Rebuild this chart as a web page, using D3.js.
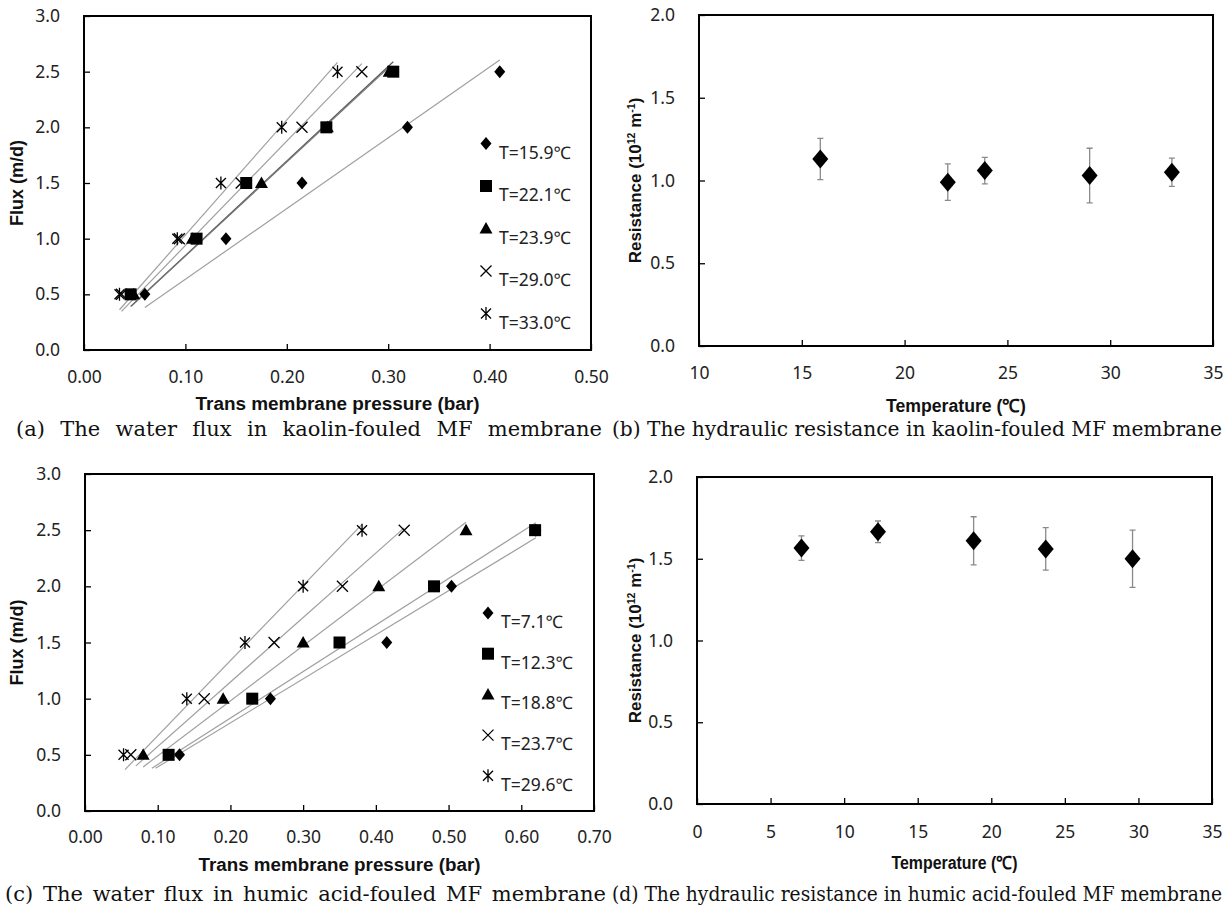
<!DOCTYPE html>
<html><head><meta charset="utf-8">
<script src="https://cdn.jsdelivr.net/npm/d3@7"></script>
<style>body{margin:0;background:#fff} svg{display:block}</style>
</head><body>
<svg id="chart" width="1229" height="912"></svg>
<script>
// ---------- DATA ----------
const fluxLevels = [0.5, 1.0, 1.5, 2.0, 2.5];
const fluxTicks = [0, 0.5, 1.0, 1.5, 2.0, 2.5, 3.0];

// (a) kaolin-fouled: TMP (bar) for each flux level
const aLabels = ["T=15.9℃", "T=22.1℃", "T=23.9℃", "T=29.0℃", "T=33.0℃"];
const aTMP159 = [0.060, 0.140, 0.215, 0.319, 0.410];
const aTMP221 = [0.046, 0.111, 0.160, 0.239, 0.305];
const aTMP239 = [0.049, 0.107, 0.175, 0.240, 0.301];
const aTMP290 = [0.037, 0.094, 0.155, 0.215, 0.274];
const aTMP330 = [0.035, 0.092, 0.135, 0.195, 0.250];
const aLineFrom = [0.060, 0.046, 0.047, 0.037, 0.035];
const aLineTo   = [0.410, 0.305, 0.302, 0.274, 0.250];
const aXTicks = [0, 0.1, 0.2, 0.3, 0.4, 0.5];

// (c) humic acid-fouled
const cLabels = ["T=7.1℃", "T=12.3℃", "T=18.8℃", "T=23.7℃", "T=29.6℃"];
const cTMP71  = [0.130, 0.255, 0.415, 0.504, 0.620];
const cTMP123 = [0.115, 0.230, 0.350, 0.480, 0.619];
const cTMP188 = [0.080, 0.190, 0.300, 0.404, 0.524];
const cTMP237 = [0.063, 0.164, 0.260, 0.354, 0.439];
const cTMP296 = [0.053, 0.140, 0.220, 0.300, 0.381];
const cLineFrom = [0.097, 0.092, 0.080, 0.070, 0.055];
const cLineTo   = [0.620, 0.620, 0.524, 0.439, 0.381];
const cXTicks = [0, 0.1, 0.2, 0.3, 0.4, 0.5, 0.6, 0.7];

// (b) resistance, kaolin
const bTemp = [15.9, 22.1, 23.9, 29.0, 33.0];
const bRes  = [1.13, 0.99, 1.06, 1.03, 1.05];
const bErr  = [0.125, 0.11, 0.08, 0.165, 0.085];
const bXTicks = [10, 15, 20, 25, 30, 35];

// (d) resistance, humic acid
const dTemp = [7.1, 12.3, 18.8, 23.7, 29.6];
const dRes  = [1.565, 1.665, 1.61, 1.56, 1.50];
const dErr  = [0.075, 0.066, 0.147, 0.13, 0.175];
const dXTicks = [0, 5, 10, 15, 20, 25, 30, 35];
const resTicks = [0, 0.5, 1.0, 1.5, 2.0];

const captions = [
  "(a) The water flux in kaolin-fouled MF membrane",
  "(b) The hydraulic resistance in kaolin-fouled MF membrane",
  "(c) The water flux in humic acid-fouled MF membrane",
  "(d) The hydraulic resistance in humic acid-fouled MF membrane"
];

// ---------- DRAWING ----------
const svg = d3.select("#chart");
const TICKFONT = "'Noto Sans', 'Open Sans', sans-serif";
const TITLEFONT = "'Liberation Sans', Arial, sans-serif";
const SERIF = "'DejaVu Serif', 'Liberation Serif', serif";
const markerTypes = ["diamond", "square", "triangle", "x", "asterisk"];

function drawMarker(g, type, cx, cy) {
  if (type === "diamond") {
    g.append("path").attr("d", `M${cx},${cy-6.5}L${cx+5.5},${cy}L${cx},${cy+6.5}L${cx-5.5},${cy}Z`).attr("fill", "#000");
  } else if (type === "square") {
    g.append("rect").attr("x", cx-6).attr("y", cy-6).attr("width", 12).attr("height", 12).attr("fill", "#000");
  } else if (type === "triangle") {
    g.append("path").attr("d", `M${cx},${cy-6.5}L${cx+6.5},${cy+5}L${cx-6.5},${cy+5}Z`).attr("fill", "#000");
  } else if (type === "x") {
    g.append("path").attr("d", `M${cx-5.5},${cy-5.5}L${cx+5.5},${cy+5.5}M${cx+5.5},${cy-5.5}L${cx-5.5},${cy+5.5}`)
      .attr("stroke", "#000").attr("stroke-width", 1.3).attr("fill", "none");
  } else if (type === "asterisk") {
    g.append("path").attr("d", `M${cx-5},${cy-5}L${cx+5},${cy+5}M${cx+5},${cy-5}L${cx-5},${cy+5}M${cx},${cy-6.5}L${cx},${cy+6.5}`)
      .attr("stroke", "#000").attr("stroke-width", 1.3).attr("fill", "none");
  }
}

function styleAxis(g) {
  g.select(".domain").remove();
  g.selectAll(".tick line").attr("stroke", "#000").attr("stroke-width", 1.3);
  g.selectAll(".tick text").attr("font-family", TICKFONT).attr("font-size", 17.5).attr("fill", "#222");
}

function frame(left, right, top, bottom) {
  svg.append("rect").attr("x", left).attr("y", top).attr("width", right-left).attr("height", bottom-top)
    .attr("fill", "none").attr("stroke", "#000").attr("stroke-width", 2);
}

function axisTitle(x, y, text, width, rotate) {
  const t = svg.append("text")
    .attr("transform", rotate ? `translate(${x},${y}) rotate(-90)` : `translate(${x},${y})`)
    .attr("text-anchor", "middle").attr("font-family", TITLEFONT).attr("font-weight", "bold")
    .attr("font-size", 18).attr("fill", "#111").text(text);
  if (width) t.attr("textLength", width).attr("lengthAdjust", "spacingAndGlyphs");
  return t;
}

function fluxPanel(cfg) {
  const x = d3.scaleLinear().domain([0, cfg.xMax]).range([cfg.left, cfg.right]);
  const y = d3.scaleLinear().domain([0, 3]).range([cfg.bottom, cfg.top]);
  svg.append("g").attr("transform", `translate(${cfg.left},0)`)
    .call(d3.axisLeft(y).tickValues(fluxTicks).tickFormat(d3.format(".1f")).tickSizeInner(-6).tickSizeOuter(0).tickPadding(24))
    .call(styleAxis);
  svg.append("g").attr("transform", `translate(0,${cfg.bottom})`)
    .call(d3.axisBottom(x).tickValues(cfg.xTicks).tickFormat(d3.format(".2f")).tickSizeInner(-6).tickSizeOuter(0).tickPadding(cfg.xPad))
    .call(styleAxis);
  frame(cfg.left, cfg.right, cfg.top, cfg.bottom);

  const g = svg.append("g");
  // trend lines (least squares through origin)
  cfg.series.forEach((xs, i) => {
    const k = d3.sum(xs, (v, j) => v * fluxLevels[j]) / d3.sum(xs, v => v * v);
    g.append("line")
      .attr("x1", x(cfg.lineFrom[i])).attr("y1", y(k * cfg.lineFrom[i]))
      .attr("x2", x(cfg.lineTo[i])).attr("y2", y(k * cfg.lineTo[i]))
      .attr("stroke", cfg.lineColors[i]).attr("stroke-width", 1.2);
  });
  cfg.series.forEach((xs, i) => {
    xs.forEach((v, j) => drawMarker(g, markerTypes[i], x(v), y(fluxLevels[j])));
  });
  cfg.labels.forEach((lab, i) => {
    const my = cfg.legendY + i * cfg.legendStep;
    drawMarker(g, markerTypes[i], cfg.legendX, my);
    g.append("text").attr("x", cfg.legendX + 13).attr("y", my + 15)
      .attr("font-family", TICKFONT).attr("font-size", 17.5).attr("fill", "#222").text(lab);
  });
  axisTitle(cfg.yTitleX, (cfg.top + cfg.bottom) / 2, "Flux (m/d)", null, true);
  axisTitle((cfg.left + cfg.right) / 2, cfg.xTitleY, "Trans membrane pressure (bar)", cfg.xTitleW, false);
}

function resPanel(cfg) {
  const x = d3.scaleLinear().domain([cfg.xMin, 35]).range([cfg.left, cfg.right]);
  const y = d3.scaleLinear().domain([0, 2]).range([cfg.bottom, cfg.top]);
  svg.append("g").attr("transform", `translate(${cfg.left},0)`)
    .call(d3.axisLeft(y).tickValues(resTicks).tickFormat(d3.format(".1f")).tickSizeInner(-6).tickSizeOuter(0).tickPadding(24))
    .call(styleAxis);
  svg.append("g").attr("transform", `translate(0,${cfg.bottom})`)
    .call(d3.axisBottom(x).tickValues(cfg.xTicks).tickFormat(d3.format("d")).tickSizeInner(-6).tickSizeOuter(0).tickPadding(cfg.xPad))
    .call(styleAxis);
  frame(cfg.left, cfg.right, cfg.top, cfg.bottom);
  const g = svg.append("g");
  cfg.temp.forEach((t, i) => {
    const cx = x(t), lo = y(cfg.res[i] - cfg.err[i]), hi = y(cfg.res[i] + cfg.err[i]);
    g.append("path").attr("d", `M${cx},${lo}L${cx},${hi}M${cx-3},${lo}L${cx+3},${lo}M${cx-3},${hi}L${cx+3},${hi}`)
      .attr("stroke", "#8a8a8a").attr("stroke-width", 1.3).attr("fill", "none");
  });
  cfg.temp.forEach((t, i) => {
    const cx = x(t), cy = y(cfg.res[i]);
    g.append("path").attr("d", `M${cx},${cy-9.5}L${cx+8},${cy}L${cx},${cy+9.5}L${cx-8},${cy}Z`).attr("fill", "#000");
  });
  const yt = svg.append("text").attr("transform", `translate(${cfg.yTitleX},${(cfg.top+cfg.bottom)/2}) rotate(-90)`)
    .attr("text-anchor", "middle").attr("font-family", TITLEFONT).attr("font-weight", "bold").attr("font-size", 17).attr("fill", "#111");
  yt.append("tspan").text("Resistance (10");
  yt.append("tspan").attr("font-size", 10.5).attr("dy", -6).text("12");
  yt.append("tspan").attr("dy", 6).text(" m");
  yt.append("tspan").attr("font-size", 10.5).attr("dy", -6).text("-1");
  yt.append("tspan").attr("dy", 6).text(")");
  axisTitle((cfg.left + cfg.right) / 2, cfg.xTitleY, "Temperature (℃)", cfg.xTitleW, false);
}

fluxPanel({left: 84, right: 591, top: 16, bottom: 350, xMax: 0.5, xTicks: aXTicks, xPad: 21,
  series: [aTMP159, aTMP221, aTMP239, aTMP290, aTMP330], lineFrom: aLineFrom, lineTo: aLineTo,
  lineColors: ["#a0a0a0", "#555", "#777", "#a0a0a0", "#a0a0a0"],
  labels: aLabels, legendX: 486, legendY: 143.5, legendStep: 42.5, yTitleX: 23, xTitleY: 410, xTitleW: 284});

resPanel({left: 699, right: 1213, top: 15, bottom: 346, xMin: 10, xTicks: bXTicks, xPad: 21,
  temp: bTemp, res: bRes, err: bErr, yTitleX: 641, xTitleY: 412, xTitleW: 140});

fluxPanel({left: 85, right: 594, top: 474, bottom: 811, xMax: 0.7, xTicks: cXTicks, xPad: 20,
  series: [cTMP71, cTMP123, cTMP188, cTMP237, cTMP296], lineFrom: cLineFrom, lineTo: cLineTo,
  lineColors: ["#a0a0a0", "#a0a0a0", "#a0a0a0", "#a0a0a0", "#a0a0a0"],
  labels: cLabels, legendX: 488, legendY: 613, legendStep: 40.7, yTitleX: 23, xTitleY: 871, xTitleW: 282});

resPanel({left: 697, right: 1212, top: 477, bottom: 804, xMin: 0, xTicks: dXTicks, xPad: 22,
  temp: dTemp, res: dRes, err: dErr, yTitleX: 641, xTitleY: 869, xTitleW: 126});

// captions
const capPos = [[16, 602, 436], [612, 1222, 436], [5, 606, 901], [612, 1222, 901]];
captions.forEach((c, i) => {
  const [x0, x1, yb] = capPos[i];
  const condensed = (i === 1 || i === 3);
  const t = svg.append("text")
    .attr("transform", condensed ? `translate(${x0},${yb}) scale(1,1.2)` : `translate(${x0},${yb})`)
    .attr("font-family", SERIF).attr("font-size", condensed ? 17.5 : 21).attr("fill", "#111")
    .text(c);
  const natural = t.node().getComputedTextLength();
  const spaces = (c.match(/ /g) || []).length;
  if (condensed || natural >= x1 - x0) {
    t.attr("textLength", x1 - x0).attr("lengthAdjust", "spacingAndGlyphs");
  } else {
    t.attr("word-spacing", (x1 - x0 - natural) / spaces);
  }
});
</script></body></html>
